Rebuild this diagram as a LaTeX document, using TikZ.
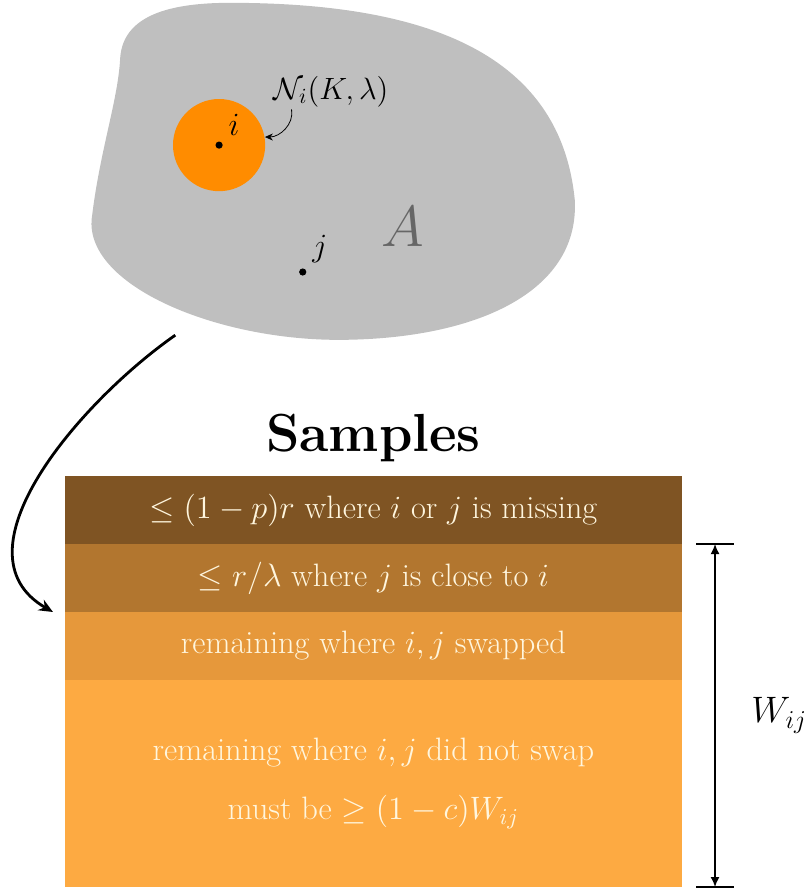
\RequirePackage{fix-cm}
\documentclass[tikz,border=0pt]{standalone}
\usepackage{amsmath,amssymb}
\usetikzlibrary{arrows.meta,positioning}
\definecolor{nbhd}{RGB}{255,140,0}
\definecolor{rowA}{RGB}{127,84,35}
\definecolor{rowB}{RGB}{178,118,47}
\definecolor{rowC}{RGB}{230,152,59}
\definecolor{rowD}{RGB}{253,170,66}
\definecolor{bandtext}{RGB}{255,246,222}
\newcommand{\labelsize}{\fontsize{16.2}{19.4}\selectfont}

\begin{document}
\begin{tikzpicture}[every node/.style={font=\labelsize}, >={Latex[length=5pt,width=4.5pt]},
	dot/.style={circle, fill=black, inner sep=0pt, minimum size=3.6pt},
	band/.style={minimum width=10.84cm, minimum height=1.195cm, inner sep=0pt, outer sep=0pt, text=bandtext, align=center}]
	\useasboundingbox (0,0) rectangle (14.18,15.64);
	\fill[lightgray] (1.62,11.86) .. controls (1.76,13.00) and (2.07,13.88) .. (2.11,14.59) .. controls (2.14,15.29) and (2.81,15.59) .. (4.04,15.59) .. controls (7.38,15.59) and (9.84,14.76) .. (10.10,12.13) .. controls (10.19,10.54) and (8.44,9.72) .. (6.15,9.67) .. controls (3.87,9.61) and (1.41,10.63) .. cycle;
	\node[circle, fill=nbhd, minimum size=1.62cm, inner sep=0pt] (nb) at (3.85,13.09) {};
	\node[dot] (i) at (nb.center) {};
	\node[above right=0pt of i, inner sep=3.2pt] {$i$};
	\node[dot] (j) at (5.32,10.86) {};
	\node[above right=0pt of j, inner sep=3.2pt] {$j$};
	\node[inner sep=1pt, font=\fontsize{15.4}{18}\selectfont] (nlab) at (5.82,14.03) {$\mathcal{N}_i(K,\lambda)$};
	\draw[-{Stealth[length=4pt,width=3.5pt]}, thin] ([xshift=10pt]nlab.south west) to[out=-80, in=0] (nb.10);
	\node[font=\fontsize{29}{34}\selectfont, text=black!60] (A) at (7.08,11.66) {$A$};
	\node[band, fill=rowA, anchor=north west] (r1) at (1.142,7.275) {$\leq (1-p)r$ where $i$ or $j$ is missing};
	\node[band, fill=rowB, below=0pt of r1] (r2) {$\leq r/\lambda$ where $j$ is close to $i$};
	\node[band, fill=rowC, below=0pt of r2] (r3) {remaining where $i,j$ swapped};
	\node[band, fill=rowD, minimum height=3.638cm, below=0pt of r3] (r4) {remaining where $i,j$ did not swap\\[10pt] must be $\geq (1-c)W_{ij}$};
	\node[font=\fontsize{26.8}{32}\selectfont\bfseries, inner sep=0pt, above=7pt of r1] (title) {Samples};
	\coordinate (src) at (3.08,9.75);
	\draw[-{Stealth[length=7pt,width=6pt]}, line width=1.4pt] (src) to[out=215, in=150] ([xshift=-6pt]r3.north west);
	\coordinate (wx) at (12.565,0);
	\coordinate (wt) at (r2.north -| wx);
	\coordinate (wb) at (r4.south -| wx);
	\draw[thick] ([xshift=-9.5pt]wt) -- ([xshift=9.5pt]wt);
	\draw[thick] ([xshift=-9.5pt]wb) -- ([xshift=9.5pt]wb);
	\draw[<->, thick] (wt) -- (wb) node[midway, right=14.5pt, font=\fontsize{18.4}{22}\selectfont] {$W_{ij}$};
\end{tikzpicture}
\end{document}
